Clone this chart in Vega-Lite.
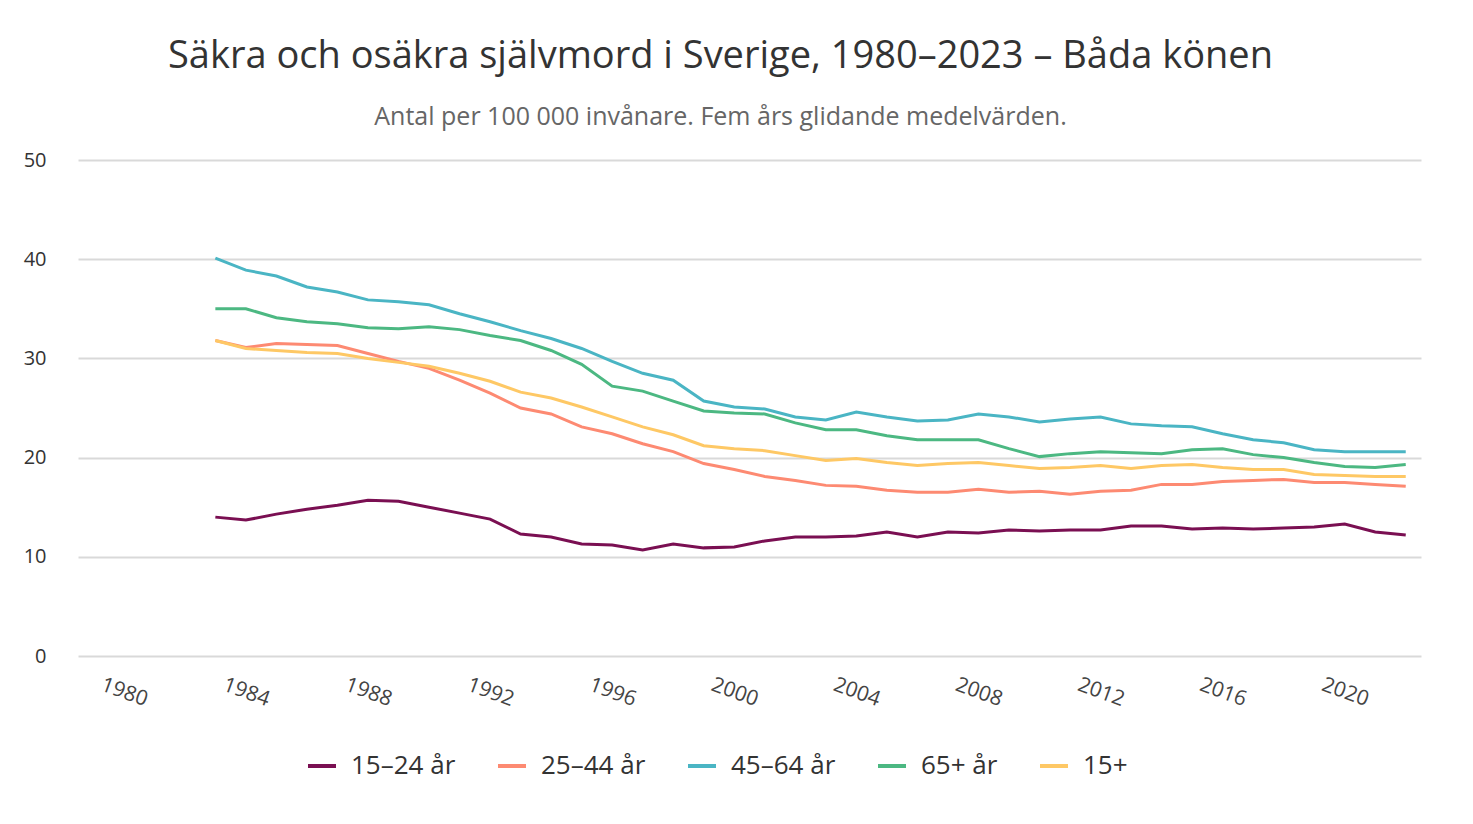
{
  "$schema": "https://vega.github.io/schema/vega-lite/v6.json",
  "autosize": {"type": "none"},
  "width": 1343,
  "height": 496,
  "padding": {"left": 78, "top": 160, "right": 52, "bottom": 168},
  "background": "#ffffff",
  "title": {
    "text": "Säkra och osäkra självmord i Sverige, 1980–2023 – Båda könen",
    "subtitle": "Antal per 100 000 invånare. Fem års glidande medelvärden.",
    "anchor": "middle",
    "dx": -29,
    "offset": 20,
    "font": "Open Sans",
    "fontSize": 38,
    "fontWeight": "normal",
    "color": "#333333",
    "subtitleFont": "Open Sans",
    "subtitleFontSize": 25,
    "subtitleColor": "#666666",
    "subtitlePadding": 29
  },
  "data": {
    "values": [
      {"year": 1983, "a": 14.0, "b": 31.8, "c": 40.1, "d": 35.0, "e": 31.8},
      {"year": 1984, "a": 13.7, "b": 31.1, "c": 38.9, "d": 35.0, "e": 31.0},
      {"year": 1985, "a": 14.3, "b": 31.5, "c": 38.3, "d": 34.1, "e": 30.8},
      {"year": 1986, "a": 14.8, "b": 31.4, "c": 37.2, "d": 33.7, "e": 30.6},
      {"year": 1987, "a": 15.2, "b": 31.3, "c": 36.7, "d": 33.5, "e": 30.5},
      {"year": 1988, "a": 15.7, "b": 30.5, "c": 35.9, "d": 33.1, "e": 30.0},
      {"year": 1989, "a": 15.6, "b": 29.7, "c": 35.7, "d": 33.0, "e": 29.6},
      {"year": 1990, "a": 15.0, "b": 29.0, "c": 35.4, "d": 33.2, "e": 29.2},
      {"year": 1991, "a": 14.4, "b": 27.8, "c": 34.5, "d": 32.9, "e": 28.5},
      {"year": 1992, "a": 13.8, "b": 26.5, "c": 33.7, "d": 32.3, "e": 27.7},
      {"year": 1993, "a": 12.3, "b": 25.0, "c": 32.8, "d": 31.8, "e": 26.6},
      {"year": 1994, "a": 12.0, "b": 24.4, "c": 32.0, "d": 30.8, "e": 26.0},
      {"year": 1995, "a": 11.3, "b": 23.1, "c": 31.0, "d": 29.4, "e": 25.1},
      {"year": 1996, "a": 11.2, "b": 22.4, "c": 29.7, "d": 27.2, "e": 24.1},
      {"year": 1997, "a": 10.7, "b": 21.4, "c": 28.5, "d": 26.7, "e": 23.1},
      {"year": 1998, "a": 11.3, "b": 20.6, "c": 27.8, "d": 25.7, "e": 22.3},
      {"year": 1999, "a": 10.9, "b": 19.4, "c": 25.7, "d": 24.7, "e": 21.2},
      {"year": 2000, "a": 11.0, "b": 18.8, "c": 25.1, "d": 24.5, "e": 20.9},
      {"year": 2001, "a": 11.6, "b": 18.1, "c": 24.9, "d": 24.4, "e": 20.7},
      {"year": 2002, "a": 12.0, "b": 17.7, "c": 24.1, "d": 23.5, "e": 20.2},
      {"year": 2003, "a": 12.0, "b": 17.2, "c": 23.8, "d": 22.8, "e": 19.7},
      {"year": 2004, "a": 12.1, "b": 17.1, "c": 24.6, "d": 22.8, "e": 19.9},
      {"year": 2005, "a": 12.5, "b": 16.7, "c": 24.1, "d": 22.2, "e": 19.5},
      {"year": 2006, "a": 12.0, "b": 16.5, "c": 23.7, "d": 21.8, "e": 19.2},
      {"year": 2007, "a": 12.5, "b": 16.5, "c": 23.8, "d": 21.8, "e": 19.4},
      {"year": 2008, "a": 12.4, "b": 16.8, "c": 24.4, "d": 21.8, "e": 19.5},
      {"year": 2009, "a": 12.7, "b": 16.5, "c": 24.1, "d": 20.9, "e": 19.2},
      {"year": 2010, "a": 12.6, "b": 16.6, "c": 23.6, "d": 20.1, "e": 18.9},
      {"year": 2011, "a": 12.7, "b": 16.3, "c": 23.9, "d": 20.4, "e": 19.0},
      {"year": 2012, "a": 12.7, "b": 16.6, "c": 24.1, "d": 20.6, "e": 19.2},
      {"year": 2013, "a": 13.1, "b": 16.7, "c": 23.4, "d": 20.5, "e": 18.9},
      {"year": 2014, "a": 13.1, "b": 17.3, "c": 23.2, "d": 20.4, "e": 19.2},
      {"year": 2015, "a": 12.8, "b": 17.3, "c": 23.1, "d": 20.8, "e": 19.3},
      {"year": 2016, "a": 12.9, "b": 17.6, "c": 22.4, "d": 20.9, "e": 19.0},
      {"year": 2017, "a": 12.8, "b": 17.7, "c": 21.8, "d": 20.3, "e": 18.8},
      {"year": 2018, "a": 12.9, "b": 17.8, "c": 21.5, "d": 20.0, "e": 18.8},
      {"year": 2019, "a": 13.0, "b": 17.5, "c": 20.8, "d": 19.5, "e": 18.3},
      {"year": 2020, "a": 13.3, "b": 17.5, "c": 20.6, "d": 19.1, "e": 18.2},
      {"year": 2021, "a": 12.5, "b": 17.3, "c": 20.6, "d": 19.0, "e": 18.1},
      {"year": 2022, "a": 12.2, "b": 17.1, "c": 20.6, "d": 19.3, "e": 18.1}
    ]
  },
  "transform": [
    {"fold": ["a", "b", "c", "d", "e"], "as": ["key", "value"]},
    {"lookup": "key", "from": {"data": {"values": [
      {"key": "a", "grupp": "15–24 år"},
      {"key": "b", "grupp": "25–44 år"},
      {"key": "c", "grupp": "45–64 år"},
      {"key": "d", "grupp": "65+ år"},
      {"key": "e", "grupp": "15+"}
    ]}, "key": "key", "fields": ["grupp"]}}
  ],
  "mark": {"type": "line", "strokeWidth": 3, "interpolate": "linear"},
  "encoding": {
    "x": {
      "field": "year",
      "type": "quantitative",
      "scale": {"domain": [1978.5, 2022.5], "nice": false, "zero": false},
      "axis": {
        "title": null,
        "values": [1980, 1984, 1988, 1992, 1996, 2000, 2004, 2008, 2012, 2016, 2020],
        "format": "d",
        "grid": false,
        "domain": false,
        "ticks": false,
        "labelAngle": 20,
        "labelAlign": "center",
        "labelBaseline": "middle",
        "labelPadding": 36,
        "labelFont": "Open Sans",
        "labelFontSize": 21,
        "labelColor": "#444444"
      }
    },
    "y": {
      "field": "value",
      "type": "quantitative",
      "scale": {"domain": [0, 50], "nice": false},
      "axis": {
        "title": null,
        "values": [0, 10, 20, 30, 40, 50],
        "grid": true,
        "gridColor": "#d9d9d9",
        "gridWidth": 2,
        "domain": false,
        "ticks": false,
        "labelPadding": 32,
        "labelFont": "Open Sans",
        "labelFontSize": 20,
        "labelColor": "#333333"
      }
    },
    "color": {
      "field": "grupp",
      "type": "nominal",
      "scale": {
        "domain": ["15–24 år", "25–44 år", "45–64 år", "65+ år", "15+"],
        "range": ["#7a0f52", "#fd8a72", "#4ab5c4", "#4cb882", "#fec865"]
      },
      "legend": {
        "title": null,
        "orient": "none",
        "direction": "horizontal",
        "legendX": 228,
        "legendY": 590,
        "padding": 0,
        "symbolType": "stroke",
        "symbolSize": 784,
        "symbolStrokeWidth": 4,
        "labelFont": "Open Sans",
        "labelFontSize": 26,
        "labelColor": "#333333",
        "labelOffset": 13,
        "columnPadding": 34
      }
    }
  },
  "config": {"view": {"stroke": null}}
}
